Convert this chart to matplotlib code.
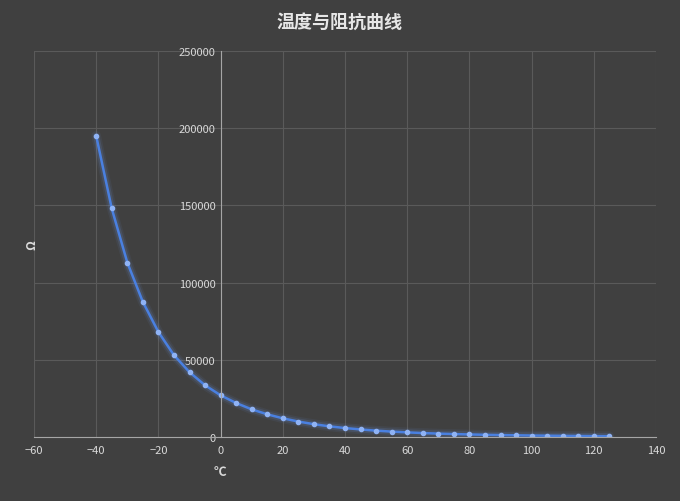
import matplotlib
matplotlib.use("Agg")
import matplotlib.pyplot as plt

plt.rcParams['font.family'] = ['Noto Sans CJK SC', 'DejaVu Sans']

# temperature (°C) and resistance (Ω)
temps = [-40, -35, -30, -25, -20, -15, -10, -5, 0, 5, 10, 15, 20, 25, 30, 35,
         40, 45, 50, 55, 60, 65, 70, 75, 80, 85, 90, 95, 100, 105, 110, 115, 120, 125]
ohms = [195000, 148000, 113000, 87500, 68000, 53000, 42000, 33500, 27000, 22000,
        17900, 14700, 12100, 10000, 8300, 6900, 5800, 4900, 4100, 3500, 3000,
        2550, 2200, 1900, 1650, 1430, 1250, 1100, 960, 850, 750, 660, 590, 520]

bg = "#404040"
grid_c = "#5a5a5a"
txt_c = "#d9d9d9"

fig = plt.figure(figsize=(6.8, 5.02), dpi=100, facecolor=bg)
ax = fig.add_axes([34 / 680, 1 - 438 / 502, 622 / 680, 386 / 502], facecolor=bg)

# soft glow underneath
for lw, a in [(7, 0.07), (4.5, 0.14)]:
    ax.plot(temps, ohms, color="#6f9cf0", lw=lw, alpha=a, solid_capstyle="round")
ax.plot(temps, ohms, color="#4a80e0", lw=1.8, marker="o", markersize=3,
        markerfacecolor="#8fb3f5", markeredgecolor="#8fb3f5")

ax.set_xlim(-60, 140)
ax.set_ylim(0, 250000)
ax.set_xticks(range(-60, 141, 20))
ax.set_yticks(range(0, 250001, 50000))
ax.grid(True, color=grid_c, lw=0.8)
ax.set_axisbelow(True)

for s in ["top", "right"]:
    ax.spines[s].set_visible(False)
ax.spines["left"].set_position(("data", 0))
ax.spines["left"].set_color("#a6a6a6")
ax.spines["bottom"].set_color("#a6a6a6")
ax.tick_params(colors=txt_c, labelsize=8, length=0)
ax.tick_params(axis="x", pad=6)

fig.text(0.5, 1 - 22 / 502, "温度与阻抗曲线", ha="center", va="center",
         color="#e6e6e6", fontsize=13, fontweight="bold")
fig.text(32 / 680, 1 - 245 / 502, "Ω", ha="center", va="center", color=txt_c,
         fontsize=9, fontweight="bold", rotation=90)
fig.text(220 / 680, 1 - 472 / 502, "℃", ha="center", va="center", color=txt_c,
         fontsize=9, fontweight="bold")

fig.savefig("out.png", dpi=100, facecolor=bg)
